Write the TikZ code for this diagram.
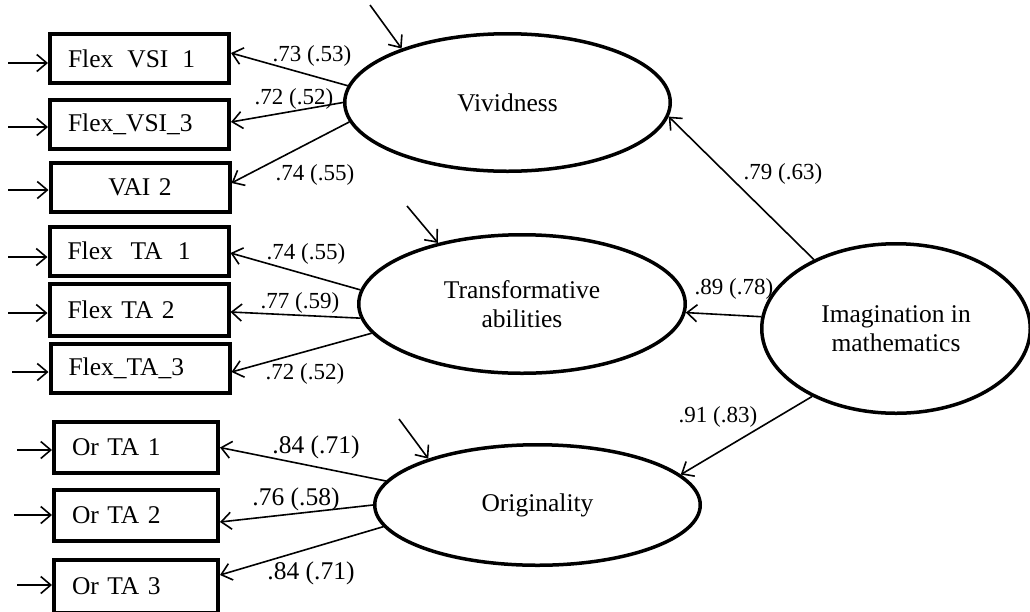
\documentclass[tikz,border=0pt]{standalone}
\usepackage{fontspec}
\setmainfont{Liberation Serif}
\usetikzlibrary{arrows.meta,shapes.geometric,calc}
\begin{document}
\begin{tikzpicture}[x=1pt,y=-1pt,
  obs/.style={draw, line width=4pt, minimum height=49pt, inner xsep=18pt, inner ysep=0pt,
    align=left, font=\fontsize{25.5}{29}\selectfont},
  lat/.style={draw, ellipse, line width=3.5pt, inner sep=0pt, align=center,
    font=\fontsize{25.5}{29}\selectfont},
  pth/.style={line width=1.6pt, -{Straight Barb[length=10pt,width=17pt,line width=1.6pt]}},
  lab/.style={inner sep=0pt, font=\fontsize{23}{27}\selectfont},
  labb/.style={inner sep=0pt, font=\fontsize{25.5}{29}\selectfont}]
\useasboundingbox (0,0) rectangle (1030,611);
\fill[white] (0,0) rectangle (1030,611);

% observed indicators
\node[obs, text width=143pt] (v1) at (139.5,58.5) {Flex\hspace{0.55em}VSI\hspace{0.55em}1};
\node[obs, text width=143pt] (v3) at (139.5,124) {Flex\_VSI\_3};
\node[obs, text width=143pt, align=center] (v2) at (140,187.5) {VAI 2};
\node[obs, text width=143pt] (t1) at (139,251) {Flex\hspace{0.7em}TA\hspace{0.6em}1};
\node[obs, text width=143pt, minimum height=52pt] (t2) at (139,310) {Flex TA 2};
\node[obs, text width=143pt] (t3) at (140,368.5) {Flex\_TA\_3};
\node[obs, text width=128pt, minimum height=51pt] (o1) at (136,447.5) {Or TA 1};
\node[obs, text width=128pt, minimum height=51pt] (o2) at (136,515.5) {Or TA 2};
\node[obs, text width=128pt, minimum height=53pt] (o3) at (136,586) {Or TA 3};

% latent variables
\node[lat, minimum width=325.5pt, minimum height=137.5pt] (viv) at (507.5,102.5) {Vividness};
\node[lat, minimum width=326.5pt, minimum height=138.5pt] (tra) at (522,304) {Transformative\\abilities};
\node[lat, minimum width=325.5pt, minimum height=120.5pt] (ori) at (537.5,505) {Originality};
\node[lat, minimum width=268.5pt, minimum height=169.5pt] (ima) at (896,328.5) {Imagination in\\mathematics};

% loadings
\draw[pth] (viv.174.7) -- ([yshift=5.5pt]v1.east);
\draw[pth] (viv.180) -- ([yshift=2pt]v3.east);
\draw[pth] (viv.187) -- ([yshift=4.5pt]v2.east);
\draw[pth] (tra.175.9) -- ([yshift=-2pt]t1.east);
\draw[pth] (tra.185.5) -- ([yshift=-2pt]t2.east);
\draw[pth] (tra.191) -- ([yshift=-3.5pt]t3.east);
\draw[pth] (ori.171.3) -- (o1.east);
\draw[pth] (ori.180) -- ([yshift=-6.5pt]o2.east);
\draw[pth] (ori.188.3) -- ([yshift=11pt]o3.east);

% structural paths
\draw[pth] (ima.140) -- (viv.355.5);
\draw[pth] (ima.175.6) -- (tra.357);
\draw[pth] (ima.219) -- (ori.12.7);

% disturbances
\coordinate (dv) at (370,5);
\coordinate (dt) at (407,206);
\coordinate (do) at (399,419);
\draw[pth] (dv) -- (viv.153);
\draw[pth] (dt) -- (tra.144.3);
\draw[pth] (do) -- (ori.157.8);

% error terms
\coordinate (ev1) at (8,63);
\coordinate (ev3) at (8,127);
\coordinate (ev2) at (8,190);
\coordinate (et1) at (8,257);
\coordinate (et2) at (8,313);
\coordinate (et3) at (12,372);
\coordinate (eo1) at (17,450);
\coordinate (eo2) at (14,515);
\coordinate (eo3) at (17,585);
\draw[pth] (ev1) -- (ev1 -| v1.west);
\draw[pth] (ev3) -- (ev3 -| v3.west);
\draw[pth] (ev2) -- (ev2 -| v2.west);
\draw[pth] (et1) -- (et1 -| t1.west);
\draw[pth] (et2) -- (et2 -| t2.west);
\draw[pth] (et3) -- (et3 -| t3.west);
\draw[pth] (eo1) -- (eo1 -| o1.west);
\draw[pth] (eo2) -- (eo2 -| o2.west);
\draw[pth] (eo3) -- (eo3 -| o3.west);

% labels
\node[lab] (l1) at (312,56) {.73 (.53)};
\node[lab] (l2) at (294,99) {.72 (.52)};
\node[lab] (l3) at (315,175) {.74 (.55)};
\node[lab] (l4) at (306,254) {.74 (.55)};
\node[lab] (l5) at (300,303) {.77 (.59)};
\node[lab] (l6) at (305,374) {.72 (.52)};
\node[labb] (l7) at (316,447) {.84 (.71)};
\node[labb] (l8) at (296,499) {.76 (.58)};
\node[labb] (l9) at (311,573) {.84 (.71)};
\node[lab] (l10) at (783,174) {.79 (.63)};
\node[lab] (l11) at (734,289) {.89 (.78)};
\node[lab] (l12) at (718,417) {.91 (.83)};
\end{tikzpicture}
\end{document}
